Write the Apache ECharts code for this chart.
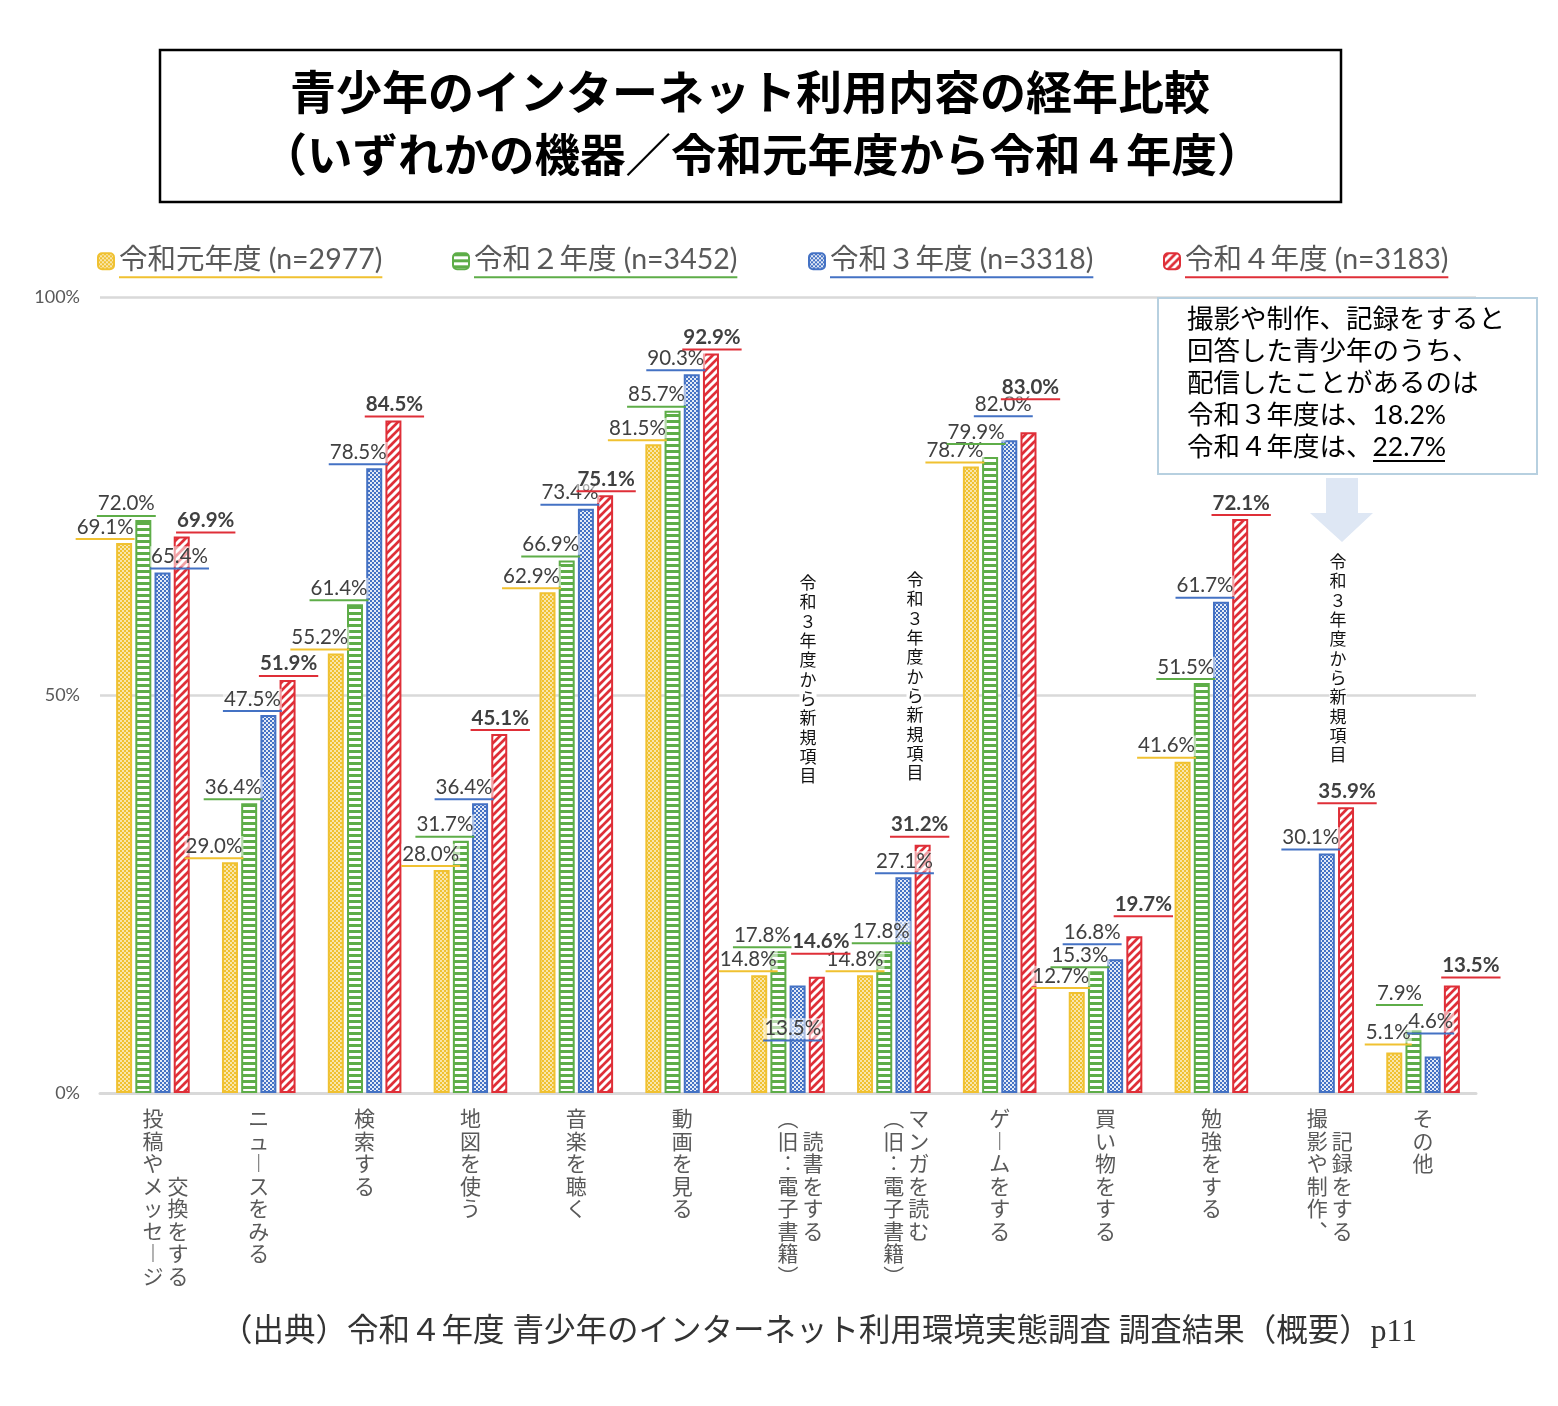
<!DOCTYPE html>
<html><head><meta charset="utf-8">
<script src="https://cdn.jsdelivr.net/npm/echarts@6/dist/echarts.min.js"></script>
<style>html,body{margin:0;padding:0;background:#fff}#c{width:1558px;height:1406px}</style>
</head><body><div id="c"></div>
<script>
// ---- data ----
const categories = ['投稿やメッセージ交換をする','ニュースをみる','検索する','地図を使う','音楽を聴く','動画を見る','読書をする（旧：電子書籍）','マンガを読む（旧：電子書籍）','ゲームをする','買い物をする','勉強をする','撮影や制作、記録をする','その他'];
const seriesNames = ['令和元年度 (n=2977)','令和２年度 (n=3452)','令和３年度 (n=3318)','令和４年度 (n=3183)'];
const r1 = [69.1, 29.0, 55.2, 28.0, 62.9, 81.5, 14.8, 14.8, 78.7, 12.7, 41.6, null, 5.1];
const r2 = [72.0, 36.4, 61.4, 31.7, 66.9, 85.7, 17.8, 17.8, 79.9, 15.3, 51.5, null, 7.9];
const r3 = [65.4, 47.5, 78.5, 36.4, 73.4, 90.3, 13.5, 27.1, 82.0, 16.8, 61.7, 30.1, 4.6];
const r4 = [69.9, 51.9, 84.5, 45.1, 75.1, 92.9, 14.6, 31.2, 83.0, 19.7, 72.1, 35.9, 13.5];
const yTickValues = [0, 50, 100];
const titleLines = ['青少年のインターネット利用内容の経年比較','（いずれかの機器／令和元年度から令和４年度）'];
const noteLines = ['撮影や制作、記録をすると','回答した青少年のうち、','配信したことがあるのは','令和３年度は、18.2%','令和４年度は、22.7%'];
const newItemNote = '令和３年度から新規項目';
const sourceText = '（出典）令和４年度 青少年のインターネット利用環境実態調査 調査結果（概要）p11';

// ---- styling ----
const colors = ['#F0C131','#5EAD48','#4472C4','#DF2F38'];
const latin = 'Lato, "Noto Sans CJK JP", sans-serif';
const cjk = '"Noto Sans CJK JP", sans-serif';

function mk(w,h,draw){const c=document.createElement('canvas');c.width=w;c.height=h;const g=c.getContext('2d');draw(g);return {image:c,repeat:'repeat'};}
const patterns = [
  mk(4,4,g=>{g.fillStyle=colors[0];g.fillRect(0,0,4,4);g.fillStyle='rgba(255,255,255,0.6)';g.fillRect(0,0,2,2);g.fillRect(2,2,2,2);}),
  mk(4,6,g=>{g.fillStyle=colors[1];g.fillRect(0,0,4,6);g.fillStyle='#fff';g.fillRect(0,3,4,3);}),
  mk(4,4,g=>{g.fillStyle=colors[2];g.fillRect(0,0,4,4);g.fillStyle='rgba(255,255,255,0.85)';g.fillRect(0,0,2,2);g.fillRect(2,2,2,2);}),
  mk(8,8,g=>{g.fillStyle=colors[3];g.fillRect(0,0,8,8);g.strokeStyle='#fff';g.lineWidth=3;g.beginPath();
    g.moveTo(-8,8);g.lineTo(8,-8);g.moveTo(0,8);g.lineTo(8,0);g.moveTo(0,16);g.lineTo(16,0);g.stroke();})
];

const dxDefault = [-16,-16,-16,1];
const labelAdj = {
 '0,0':[-19,0],'1,0':[-17,0],'2,0':[17,0],'3,0':[24,0],
 '0,3':[-11,0],'0,6':[-11,0],'2,6':[-5,59],'3,6':[4,-19],
 '0,7':[-10,0],'1,7':[-3,-4],'2,7':[1,0],'3,7':[-3,-4],
 '1,8':[-14,-9],'2,8':[-6,-20],'3,8':[2,-29],
 '2,9':[-23,-11],'3,9':[9,-16],
 '0,12':[-6,-4],'1,12':[-14,-21],'2,12':[-2,-19],'3,12':[19,-4]
};

const vmap = {'ー':'︱','、':'︑','（':'︵','）':'︶','：':'︰'};
const vert = c => vmap[c] || c;
const twoCol = {0:['投稿やメッセージ','交換をする',3], 6:['（旧：電子書籍）','読書をする',1], 7:['（旧：電子書籍）','マンガを読む',0], 11:['撮影や制作、','記録をする',1]};
function axisFmt(value, idx){
  const cfg = twoCol[idx];
  if(!cfg) return Array.from(value).map(c=>'{c|'+vert(c)+'}').join('\n');
  const L=Array.from(cfg[0]), R=Array.from(cfg[1]), off=cfg[2];
  const n=Math.max(L.length, R.length+off); const rows=[];
  for(let i=0;i<n;i++){
    const l=L[i]||'\u3000'; const r=(i-off>=0 && R[i-off])?R[i-off]:'\u3000';
    rows.push('{e|\u3000}{c|'+vert(l)+'}{c|'+vert(r)+'}');
  }
  return rows.join('\n');
}

const allData=[r1,r2,r3,r4];
const series = allData.map((arr,si)=>{
  const fw = si===3?'bold':'normal';
  return {
  name: seriesNames[si], type:'bar', barWidth:16, barGap:'20%', barCategoryGap:'20%',
  itemStyle:{color:patterns[si], borderColor:colors[si], borderWidth:2},
  emphasis:{disabled:true},
  label:{show:true, position:'top', distance:3,
    formatter:p=>{const s=p.value.toFixed(1)+'%';return '{t|'+s+'}\n{u|'+s+'}';},
    rich:{t:{fontSize:20.5, color:'#404040', fontFamily:latin, fontWeight:fw, lineHeight:22, padding:[0,1], backgroundColor:'rgba(255,255,255,0.55)'},
          u:{fontSize:20.5, fontFamily:latin, fontWeight:fw, color:'rgba(0,0,0,0)', height:2, lineHeight:2, padding:[0,1], backgroundColor:colors[si]}}},
  data: arr.map((v,ci)=>{
    const a = labelAdj[si+','+ci];
    const off = a ? a : [dxDefault[si],0];
    return {value:v, label:{offset:off}};
  })
}});

const legends = seriesNames.map((n,i)=>({
  data:[n], left:[92,447,803,1158][i], top:241, itemWidth:16, itemHeight:16, selectedMode:false, orient:'horizontal',
  formatter: nm=>'{t|'+nm+'}\n{u|'+nm+'}',
  textStyle:{rich:{t:{fontSize:28.5,color:'#595959',fontFamily:latin,lineHeight:32},
                   u:{fontSize:28.5,fontFamily:latin,color:'rgba(0,0,0,0)',height:2,lineHeight:2,backgroundColor:colors[i]}}}
}));

const chart = echarts.init(document.getElementById('c'), null, {renderer:'canvas'});
const graphics = [
  {type:'rect', z:100, shape:{x:160,y:50,width:1181,height:152}, style:{fill:'#fff',stroke:'#000',lineWidth:2.5}},
  {type:'text', z:101, x:750, y:92, style:{text:titleLines[0], font:'bold 46px '+cjk, fill:'#000', align:'center', verticalAlign:'middle'}},
  {type:'text', z:101, x:762, y:155, style:{text:titleLines[1], font:'bold 45.5px '+cjk, fill:'#000', align:'center', verticalAlign:'middle'}},
  {type:'rect', z:100, shape:{x:1158,y:298,width:379,height:176}, style:{fill:'#fff',stroke:'#B7D0E0',lineWidth:2}},
  {type:'text', z:101, x:1187, y:303, style:{text:noteLines.join('\n'), font:'26.5px '+latin, lineHeight:32.2, fill:'#000', align:'left', verticalAlign:'top'}},
  {type:'line', z:101, shape:{x1:1373,y1:461,x2:1445,y2:461}, style:{stroke:'#000',lineWidth:2}},
  {type:'polygon', z:100, shape:{points:[[1326,478],[1358,478],[1358,513],[1373,513],[1342,542],[1310,513],[1326,513]]}, style:{fill:'#DEE7F4'}},
  {type:'text', z:101, x:819, y:1333, style:{text:sourceText, font:'31.5px "Liberation Serif", '+cjk, fill:'#333', align:'center', verticalAlign:'middle'}}
];
[[808,573],[915,570],[1338,552]].forEach(([x,y])=>{
  graphics.push({type:'text', z:101, x:x, y:y, style:{text:Array.from(newItemNote).join('\n'), font:'17px '+cjk, lineHeight:19.3, fill:'#111', align:'center', verticalAlign:'top', backgroundColor:'#fff'}});
});

chart.setOption({
  animation:false,
  legend: legends,
  grid:{left:100, right:82, top:297, bottom:313, containLabel:false},
  xAxis:{type:'category', data:categories, axisTick:{show:false},
    axisLine:{lineStyle:{color:'#D9D9D9', width:3}},
    axisLabel:{interval:0, margin:14, formatter:axisFmt,
      rich:{c:{width:25, align:'center', fontSize:21, lineHeight:22.5, color:'#595959', fontFamily:cjk},
            e:{width:25, fontSize:21, lineHeight:22.5}}}},
  yAxis:{type:'value', min:yTickValues[0], max:yTickValues[2], interval:yTickValues[1]-yTickValues[0],
    axisLine:{show:false}, axisTick:{show:false},
    axisLabel:{formatter:'{value}%', fontSize:18, color:'#595959', fontFamily:latin, margin:20},
    splitLine:{lineStyle:{color:'#D9D9D9', width:2.5}}},
  series: series,
  graphic: graphics
});
</script></body></html>
